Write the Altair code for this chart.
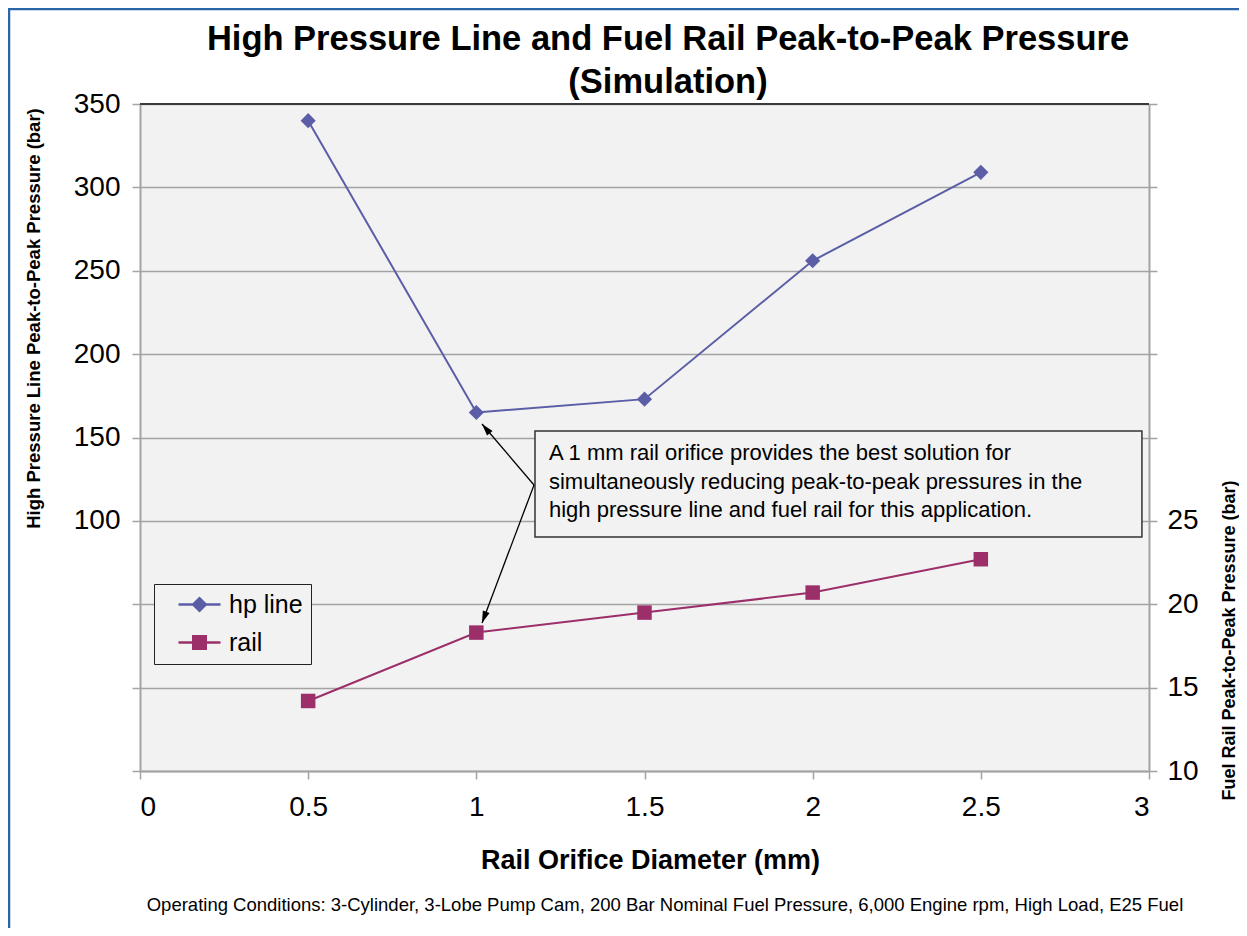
import altair as alt
import pandas as pd

# ---- data ----
diameters = [0.5, 1.0, 1.5, 2.0, 2.5]
hp_line = [340, 165, 173, 256, 309]
rail = [14.2, 18.3, 19.5, 20.7, 22.7]
series_names = ["hp line", "rail"]

title_lines = ["High Pressure Line and Fuel Rail Peak-to-Peak Pressure", "(Simulation)"]
note_lines = [
    "A 1 mm rail orifice provides the best solution for",
    "simultaneously reducing peak-to-peak pressures in the",
    "high pressure line and fuel rail for this application.",
]
footnote = "Operating Conditions: 3-Cylinder, 3-Lobe Pump Cam, 200 Bar Nominal Fuel Pressure, 6,000 Engine rpm, High Load, E25 Fuel"

# annotation geometry in data units (x: mm, y: left-axis bar)
box_x, box_x2, box_y, box_y2 = [1.1744], [2.979], [153.9], [90.3]
note_x = [1.216, 1.216, 1.216]
note_y = [140.7, 123.3, 106.5]
arrow_x = [1.1715, 1.1715]
arrow_y = [121.5, 121.5]
arrow_x2 = [1.0169, 1.0169]
arrow_y2 = [158.1, 38.8]
head_x = [1.0285, 1.0231]
head_y = [155.3, 42.1]
head_angle = [319.6, 200.6]

HP = "#5B5EA6"
RAIL = "#9C2F6A"
GRID = "#A3A3A3"
FONT = "Liberation Sans"

W, H = 1009, 667

hp_df = pd.DataFrame({"x": diameters, "y": hp_line})
rail_df = pd.DataFrame({"x": diameters, "y": rail})
box_df = pd.DataFrame({"x": box_x, "x2": box_x2, "y": box_y, "y2": box_y2})
note_df = pd.DataFrame({"x": note_x, "y": note_y, "t": note_lines})
arrow_df = pd.DataFrame({"x": arrow_x, "y": arrow_y, "x2": arrow_x2, "y2": arrow_y2})
head_df = pd.DataFrame({"x": head_x, "y": head_y, "a": head_angle})
legend_df = pd.DataFrame({"s": series_names})
title_df = pd.DataFrame({"t": title_lines, "ty": [-54, -11]})
foot_df = pd.DataFrame({"t": [footnote]})
top_df = pd.DataFrame({"y": [350]})

xscale = alt.Scale(domain=[0, 3], nice=False, zero=False)
xaxis = alt.Axis(
    values=[0, 0.5, 1, 1.5, 2, 2.5, 3], format="~g", grid=False,
    domainColor=GRID, domainWidth=2, tickColor=GRID, tickWidth=1.5, tickSize=8,
    labelFont=FONT, labelFontSize=28, labelColor="black", labelPadding=14,
    title="Rail Orifice Diameter (mm)", titleFont=FONT, titleFontSize=27,
    titleFontWeight="bold", titleColor="black", titleX=510, titleY=89,
    titleAnchor="start", titleAlign="center", titleBaseline="middle",
)
X = alt.X("x:Q", scale=xscale, axis=xaxis)

lscale = alt.Scale(domain=[-50, 350], nice=False, zero=False)
laxis = alt.Axis(
    values=list(range(-50, 351, 50)), grid=True, gridColor=GRID, gridWidth=1.5,
    labelExpr="datum.value >= 100 ? datum.label : ''",
    domainColor=GRID, domainWidth=2, tickColor=GRID, tickWidth=1.5, tickSize=8,
    labelFont=FONT, labelFontSize=28, labelColor="black", labelPadding=12,
    title="High Pressure Line Peak-to-Peak Pressure (bar)", titleFont=FONT,
    titleFontSize=18.5, titleFontWeight="bold", titleColor="black",
    titleAngle=270, titleX=-107, titleY=214, titleAnchor="start",
    titleAlign="center", titleBaseline="middle",
)
YL = alt.Y("y:Q", scale=lscale, axis=laxis)

rscale = alt.Scale(domain=[10, 50], nice=False, zero=False)
raxis = alt.Axis(
    orient="right", values=list(range(10, 51, 5)), grid=False,
    labelExpr="datum.value <= 25 ? datum.label : ''",
    domainColor=GRID, domainWidth=2, tickColor=GRID, tickWidth=1.5, tickSize=8,
    labelFont=FONT, labelFontSize=28, labelColor="black", labelPadding=10,
    title="Fuel Rail Peak-to-Peak Pressure (bar)", titleFont=FONT,
    titleFontSize=18, titleFontWeight="bold", titleColor="black",
    titleAngle=270, titleX=80, titleY=536, titleAnchor="start",
    titleAlign="center", titleBaseline="middle",
)
YR = alt.Y("y:Q", scale=rscale, axis=raxis)

# frame border (decoration)
border = alt.Chart(foot_df).mark_rect(fillOpacity=0, stroke="#2A65A8", strokeWidth=2.5).encode(
    x=alt.value(-131), x2=alt.value(1400), y=alt.value(-95), y2=alt.value(1100)
)

top_rule = alt.Chart(top_df).mark_rule(color="#3A3A3A", strokeWidth=2).encode(y=alt.Y("y:Q", scale=lscale, axis=laxis))

hp_base = alt.Chart(hp_df).encode(x=X, y=YL)
hp_lines = hp_base.mark_line(color=HP, strokeWidth=2)
hp_pts = hp_base.mark_point(shape="diamond", filled=True, size=230, color=HP, opacity=1)

box = alt.Chart(box_df).mark_rect(fill="#F2F2F2", stroke="#333333", strokeWidth=1.5).encode(
    x=X, x2="x2:Q", y=YL, y2="y2:Q"
)
note = alt.Chart(note_df).mark_text(
    align="left", baseline="middle", font=FONT, fontSize=22, color="black"
).encode(x=X, y=YL, text="t:N")

arrows = alt.Chart(arrow_df).mark_rule(color="black", strokeWidth=1.3).encode(
    x=X, y=YL, x2="x2:Q", y2="y2:Q"
)
heads = alt.Chart(head_df).mark_point(
    shape="M0,-1L-0.6,1L0.6,1Z", filled=True, size=144, color="black", opacity=1
).encode(x=X, y=YL, angle=alt.Angle("a:Q", scale=None))

titles = alt.Chart(title_df).mark_text(
    align="center", baseline="alphabetic", font=FONT, fontSize=34.5, fontWeight="bold", color="black"
).encode(x=alt.value(528), y=alt.Y("ty:Q", scale=None), text="t:N")

foot = alt.Chart(foot_df).mark_text(
    align="center", baseline="middle", font=FONT, fontSize=18.5, color="black"
).encode(x=alt.value(525), y=alt.value(801), text="t:N")

hp_sym = "M-2.1,-0.12H-0.68L0,-0.8L0.68,-0.12H2.1V0.12H0.68L0,0.8L-0.68,0.12H-2.1Z"
rail_sym = "M-2.1,-0.12H-0.75V-0.75H0.75V-0.12H2.1V0.12H0.75V0.75H-0.75V0.12H-2.1Z"
leg = alt.Legend(
    title=None, orient="none", legendX=14, legendY=480, direction="vertical",
    fillColor="#F2F2F2", strokeColor="#222222", padding=8, symbolOffset=25,
    labelFont=FONT, labelFontSize=25, labelColor="black", labelOffset=17,
    labelExpr="datum.label + '\u00a0\u00a0\u00a0'",
    symbolSize=400, symbolStrokeWidth=0, rowPadding=12,
)
legend_layer = alt.Chart(legend_df).mark_point(filled=True, size=400, opacity=1).encode(
    x=alt.value(-3000), y=alt.value(-3000),
    color=alt.Color("s:N", scale=alt.Scale(domain=series_names, range=[HP, RAIL]), legend=leg),
    shape=alt.Shape("s:N", scale=alt.Scale(domain=series_names, range=[hp_sym, rail_sym]), legend=leg),
)

left = alt.layer(top_rule, hp_lines, hp_pts, box, note, arrows, heads, legend_layer)

rail_base = alt.Chart(rail_df).encode(x=X, y=YR)
rail_lines = rail_base.mark_line(color=RAIL, strokeWidth=2)
rail_pts = rail_base.mark_point(shape="square", filled=True, size=210, color=RAIL, opacity=1)
right = alt.layer(rail_lines, rail_pts)

deco = alt.layer(border, titles, foot)

chart = alt.layer(left, right, deco).resolve_scale(y="independent").properties(
    width=W, height=H,
    padding={"left": 132, "top": 96, "right": 90, "bottom": 157},
    autosize=alt.AutoSizeParams(type="none"),
    background="white",
).configure_view(fill="#F2F2F2", stroke=None)

chart.save("out.html", embed_options={"renderer": "svg", "actions": False})
